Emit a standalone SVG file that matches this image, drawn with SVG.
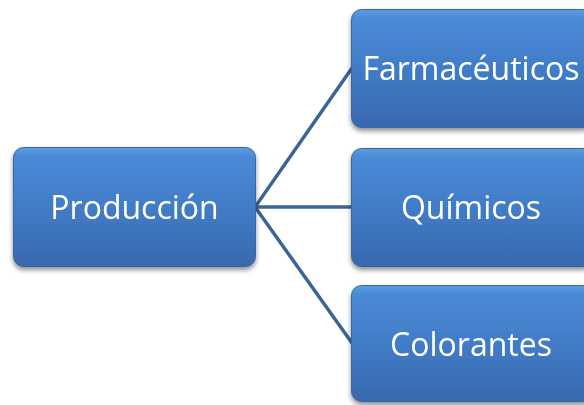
<svg xmlns="http://www.w3.org/2000/svg" width="584" height="405" viewBox="0 0 584 405">
<style>
.box{fill:url(#g);stroke:#3a66a0;stroke-width:1}
.lbl{font-family:"Open Sans","Noto Sans","Liberation Sans",sans-serif;font-size:32px;fill:#ffffff;text-anchor:middle;dominant-baseline:central}
.conn{stroke:#3b6496;stroke-width:3.5;fill:none}
</style>
<defs>
<linearGradient id="g" x1="0" y1="0" x2="0" y2="1">
<stop offset="0" stop-color="#5c9ce2"/>
<stop offset="0.08" stop-color="#4b8ad6"/>
<stop offset="0.5" stop-color="#417cc7"/>
<stop offset="1" stop-color="#3869ad"/>
</linearGradient>
<filter id="sh" x="-10%" y="-10%" width="120%" height="130%">
<feGaussianBlur in="SourceAlpha" stdDeviation="2.5"/>
<feOffset dx="0" dy="3" result="b"/>
<feComponentTransfer><feFuncA type="linear" slope="0.45"/></feComponentTransfer>
<feMerge><feMergeNode/><feMergeNode in="SourceGraphic"/></feMerge>
</filter>
</defs>
<g id="connectors">
<line class="conn" x1="255" y1="207" x2="352" y2="68"/>
<line class="conn" x1="255" y1="207" x2="352" y2="207"/>
<line class="conn" x1="255" y1="207" x2="352" y2="343"/>
</g>
<g id="produccion" filter="url(#sh)">
<rect class="box" x="13.5" y="147.5" width="242" height="119" rx="10"/>
<text class="lbl" x="134.5" y="206">Producción</text>
</g>
<g id="farmaceuticos" filter="url(#sh)">
<rect class="box" x="351.5" y="9.5" width="242" height="118" rx="10"/>
<text class="lbl" x="471" y="67">Farmacéuticos</text>
</g>
<g id="quimicos" filter="url(#sh)">
<rect class="box" x="351.5" y="148.5" width="242" height="118" rx="10"/>
<text class="lbl" x="471" y="206">Químicos</text>
</g>
<g id="colorantes" filter="url(#sh)">
<rect class="box" x="351.5" y="285.5" width="242" height="116" rx="10"/>
<text class="lbl" x="471" y="343">Colorantes</text>
</g>
</svg>
